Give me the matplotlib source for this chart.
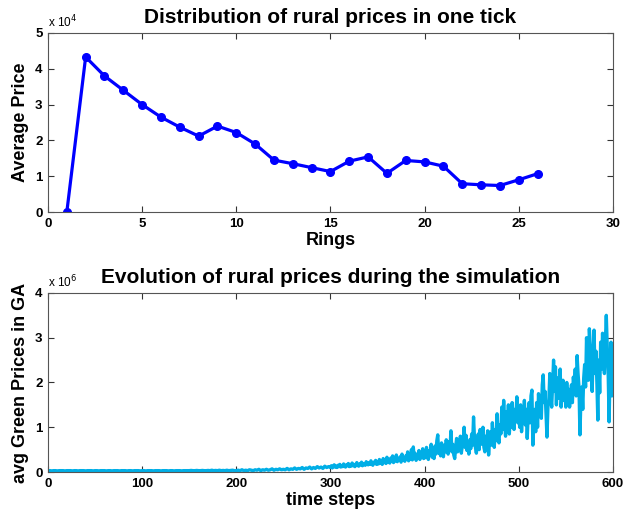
import matplotlib
matplotlib.use('Agg')
import matplotlib.pyplot as plt
import numpy as np

plt.rcParams['font.family'] = ['Liberation Sans', 'DejaVu Sans']

# top panel: average price per ring (x 10^4)
rings = list(range(1, 27))
avg_price = [0.0, 4.33, 3.80, 3.40, 3.00, 2.65, 2.37, 2.12, 2.40, 2.22, 1.90, 1.45, 1.35,
             1.24, 1.13, 1.42, 1.54, 1.08, 1.44, 1.40, 1.28, 0.79, 0.76, 0.74, 0.90, 1.07]

# bottom panel: avg green prices (x 10^6)
# every 2 steps in the flat part, every step from t=300 on
time_steps = list(range(0, 300, 2)) + list(range(300, 601))
green_prices = [
    # t 0-298 (step 2)
    0.03, 0.03, 0.025, 0.03, 0.03, 0.025, 0.03, 0.03, 0.03, 0.025, 0.03, 0.03, 0.03,
    0.025, 0.03, 0.03, 0.025, 0.03, 0.03, 0.03, 0.025, 0.03, 0.03, 0.03, 0.025,
    0.03, 0.03, 0.025, 0.03, 0.03, 0.03, 0.025, 0.03, 0.03, 0.025, 0.03, 0.03, 0.03,
    0.025, 0.03, 0.03, 0.03, 0.025, 0.03, 0.03, 0.025, 0.03, 0.03, 0.03, 0.025,
    0.03, 0.03, 0.025, 0.03, 0.03, 0.03, 0.025, 0.03, 0.03, 0.03, 0.025, 0.03, 0.03,
    0.03, 0.025, 0.03, 0.03, 0.025, 0.03, 0.03, 0.03, 0.025, 0.03, 0.03, 0.03,
    0.03, 0.035, 0.03, 0.03, 0.035, 0.03, 0.03, 0.035, 0.03, 0.03, 0.035, 0.03, 0.04,
    0.03, 0.035, 0.03, 0.04, 0.03, 0.035, 0.03, 0.04, 0.03, 0.035, 0.04, 0.03,
    0.03, 0.04, 0.03, 0.05, 0.03, 0.04, 0.03, 0.05, 0.04, 0.03, 0.05, 0.04, 0.06,
    0.03, 0.05, 0.04, 0.06, 0.04, 0.05, 0.07, 0.04, 0.06, 0.05, 0.07, 0.05,
    0.06, 0.05, 0.08, 0.05, 0.07, 0.06, 0.09, 0.06, 0.08, 0.07, 0.10, 0.06, 0.09,
    0.08, 0.11, 0.07, 0.10, 0.08, 0.12, 0.09, 0.11, 0.08, 0.13, 0.10, 0.12,
    # t 300-349
    0.10, 0.14, 0.09, 0.12, 0.16, 0.11, 0.13, 0.10, 0.15, 0.12,
    0.17, 0.11, 0.14, 0.12, 0.18, 0.13, 0.11, 0.16, 0.14, 0.19,
    0.12, 0.15, 0.13, 0.20, 0.14, 0.17, 0.12, 0.16, 0.21, 0.15,
    0.13, 0.18, 0.16, 0.22, 0.14, 0.19, 0.17, 0.15, 0.23, 0.18,
    0.16, 0.21, 0.17, 0.25, 0.18, 0.15, 0.22, 0.19, 0.26, 0.17,
    # t 350-399
    0.22, 0.18, 0.28, 0.20, 0.24, 0.17, 0.30, 0.21, 0.26, 0.19,
    0.33, 0.22, 0.27, 0.20, 0.31, 0.24, 0.36, 0.21, 0.28, 0.25,
    0.38, 0.23, 0.30, 0.26, 0.34, 0.22, 0.40, 0.27, 0.32, 0.24,
    0.36, 0.28, 0.45, 0.25, 0.33, 0.29, 0.50, 0.27, 0.56, 0.30,
    0.42, 0.26, 0.36, 0.31, 0.48, 0.28, 0.38, 0.33, 0.52, 0.30,
    # t 400-449
    0.40, 0.32, 0.55, 0.35, 0.28, 0.48, 0.38, 0.62, 0.33, 0.45,
    0.30, 0.58, 0.40, 0.70, 0.83, 0.42, 0.55, 0.36, 0.65, 0.48,
    0.34, 0.60, 0.45, 0.72, 0.50, 0.40, 0.68, 0.55, 0.92, 0.45,
    0.62, 0.38, 0.30, 0.55, 0.75, 0.45, 0.65, 0.50, 0.80, 0.42,
    0.58, 0.70, 1.00, 0.55, 0.82, 0.48, 0.65, 0.40, 0.72, 0.52,
    # t 450-499
    0.85, 0.60, 1.23, 0.75, 0.55, 0.42, 0.68, 0.85, 0.50, 0.95,
    0.62, 0.78, 1.00, 0.55, 0.45, 0.80, 0.65, 0.92, 0.38, 0.70,
    0.90, 0.60, 1.10, 0.75, 0.55, 0.95, 0.70, 1.30, 0.80, 0.65,
    1.05, 0.85, 1.45, 0.95, 1.60, 1.10, 0.80, 1.35, 1.05, 1.50,
    0.85, 1.20, 1.00, 1.55, 1.15, 0.95, 1.40, 1.25, 1.68, 1.10,
    # t 500-549
    1.35, 1.00, 1.50, 0.90, 1.30, 1.15, 1.60, 1.05, 1.40, 0.75,
    1.25, 1.55, 1.10, 1.70, 1.83, 0.60, 1.20, 1.40, 0.90, 1.55,
    1.00, 1.75, 1.30, 1.60, 1.20, 1.95, 2.17, 1.55, 1.80, 1.30,
    0.78, 1.45, 1.60, 2.20, 1.70, 1.45, 2.00, 2.50, 1.80, 2.35,
    1.50, 2.10, 1.65, 1.90, 2.30, 1.45, 1.75, 2.05, 1.60, 1.85,
    # t 550-600
    1.45, 2.00, 1.60, 1.85, 1.45, 1.70, 1.95, 1.55, 2.12, 1.90,
    2.30, 1.70, 2.60, 2.20, 1.90, 0.83, 1.60, 1.90, 1.40, 2.10,
    2.40, 1.90, 3.00, 2.50, 2.05, 3.20, 2.80, 2.40, 1.80, 2.60,
    3.17, 2.20, 2.70, 2.00, 1.16, 2.50, 1.77, 2.90, 2.30, 3.10,
    2.60, 2.20, 2.90, 3.50, 2.80, 2.20, 1.12, 2.30, 2.90, 1.70, 2.40,
]

fig = plt.figure(figsize=(6.34, 5.18), dpi=100)
ax1 = fig.add_axes([0.0757, 0.5907, 0.891, 0.3456])
ax2 = fig.add_axes([0.0757, 0.0888, 0.891, 0.3456])

ax1.plot(rings, avg_price, color='#0000ff', lw=2.3, marker='o', ms=5.5)
ax1.set_xlim(0, 30)
ax1.set_ylim(0, 5)
ax1.set_xticks(range(0, 31, 5))
ax1.set_yticks(range(0, 6))
ax1.set_title('Distribution of rural prices in one tick', fontsize=15, fontweight='bold', pad=7)
ax1.set_xlabel('Rings', fontsize=13, fontweight='bold', labelpad=2)
ax1.set_ylabel('Average Price', fontsize=13, fontweight='bold', labelpad=4)
ax1.text(0.0, 1.015, r'x 10$^4$', transform=ax1.transAxes, fontsize=8.5, va='bottom', ha='left')

ax2.plot(time_steps, green_prices, color='#00aee6', lw=2.4)
ax2.set_xlim(0, 600)
ax2.set_ylim(0, 4)
ax2.set_xticks(range(0, 601, 100))
ax2.set_yticks(range(0, 5))
ax2.set_title('Evolution of rural prices during the simulation', fontsize=15, fontweight='bold', pad=7)
ax2.set_xlabel('time steps', fontsize=13, fontweight='bold', labelpad=2)
ax2.set_ylabel('avg Green Prices in GA', fontsize=13, fontweight='bold', labelpad=4)
ax2.text(0.0, 1.015, r'x 10$^6$', transform=ax2.transAxes, fontsize=8.5, va='bottom', ha='left')

for ax in (ax1, ax2):
    ax.tick_params(direction='in', top=True, right=True, length=4, width=0.8,
                   labelsize=9.5, colors='#333333', labelcolor='black', pad=4)
    for lab in ax.get_xticklabels() + ax.get_yticklabels():
        lab.set_fontweight('bold')
    for sp in ax.spines.values():
        sp.set_color('#555555')
        sp.set_linewidth(0.8)

fig.savefig('out.png', dpi=100)
